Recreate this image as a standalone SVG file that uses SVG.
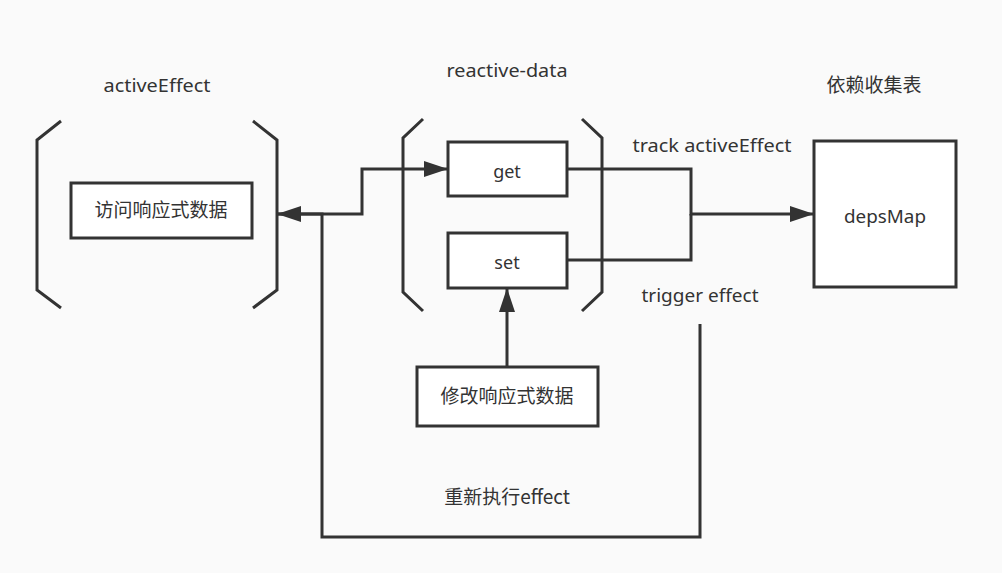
<svg xmlns="http://www.w3.org/2000/svg" width="1002" height="573" viewBox="0 0 1002 573">
  <style>
    .bg { fill: #fafafa; }
    .bracket { fill: none; stroke: #333333; stroke-width: 3; }
    .box { fill: #ffffff; stroke: #333333; stroke-width: 3; }
    .conn { fill: none; stroke: #333333; stroke-width: 3; }
    .t { font-family: "Noto Sans", "Liberation Sans", "Noto Sans CJK SC", sans-serif; font-size: 18px; fill: #333333; text-anchor: middle; }
    .c { font-family: "Noto Sans CJK SC", "Noto Sans", sans-serif; font-size: 19px; fill: #333333; text-anchor: middle; }
  </style>
  <defs>
    <marker id="arrow" markerUnits="userSpaceOnUse" markerWidth="24" markerHeight="16" refX="24" refY="8" orient="auto">
      <path d="M0,0 L24,8 L0,16 z" fill="#333333"/>
    </marker>
  </defs>
  <rect class="bg" x="0" y="0" width="1002" height="573"/>

  <g id="activeEffect">
    <text class="t" x="157" y="92" textLength="107" lengthAdjust="spacingAndGlyphs">activeEffect</text>
    <path class="bracket" d="M61,121 L37,140 L37,290 L61,308"/>
    <path class="bracket" d="M253,121 L277,140 L277,290 L253,308"/>
  </g>
  <g id="access-data">
    <rect class="box" x="71" y="183" width="181" height="55"/>
    <text class="c" x="161" y="217">访问响应式数据</text>
  </g>

  <g id="reactive-data">
    <text class="t" x="507" y="77" textLength="121" lengthAdjust="spacingAndGlyphs">reactive-data</text>
    <path class="bracket" d="M423,119 L403,138 L403,292 L423,311"/>
    <path class="bracket" d="M582,119 L602,138 L602,292 L582,311"/>
  </g>
  <g id="get">
    <rect class="box" x="448" y="142" width="119" height="54"/>
    <text class="t" x="507" y="178">get</text>
  </g>
  <g id="set">
    <rect class="box" x="448" y="233" width="119" height="55"/>
    <text class="t" x="507" y="269">set</text>
  </g>
  <g id="modify-data">
    <rect class="box" x="417" y="367" width="181" height="59"/>
    <text class="c" x="507" y="403">修改响应式数据</text>
  </g>

  <g id="deps">
    <text class="c" x="874" y="92">依赖收集表</text>
    <rect class="box" x="814" y="141" width="142" height="146"/>
    <text class="t" x="885" y="223" textLength="82" lengthAdjust="spacingAndGlyphs">depsMap</text>
  </g>

  <g id="connectors">
    <path class="conn" d="M277,214 L362,214 L362,169 L448,169" marker-end="url(#arrow)"/>
    <path class="conn" d="M700,324 L700,537 L322,537 L322,214 L277,214" marker-end="url(#arrow)"/>
    <path class="conn" d="M567,169 L691,169 L691,214 L814,214" marker-end="url(#arrow)"/>
    <path class="conn" d="M567,260 L691,260 L691,214"/>
    <path class="conn" d="M507,367 L507,288" marker-end="url(#arrow)"/>
  </g>

  <g id="labels">
    <text class="t" x="712" y="152" textLength="159" lengthAdjust="spacingAndGlyphs">track activeEffect</text>
    <text class="t" x="700" y="302" textLength="117" lengthAdjust="spacingAndGlyphs">trigger effect</text>
    <text class="c" x="507" y="504">重新执行effect</text>
  </g>
</svg>
